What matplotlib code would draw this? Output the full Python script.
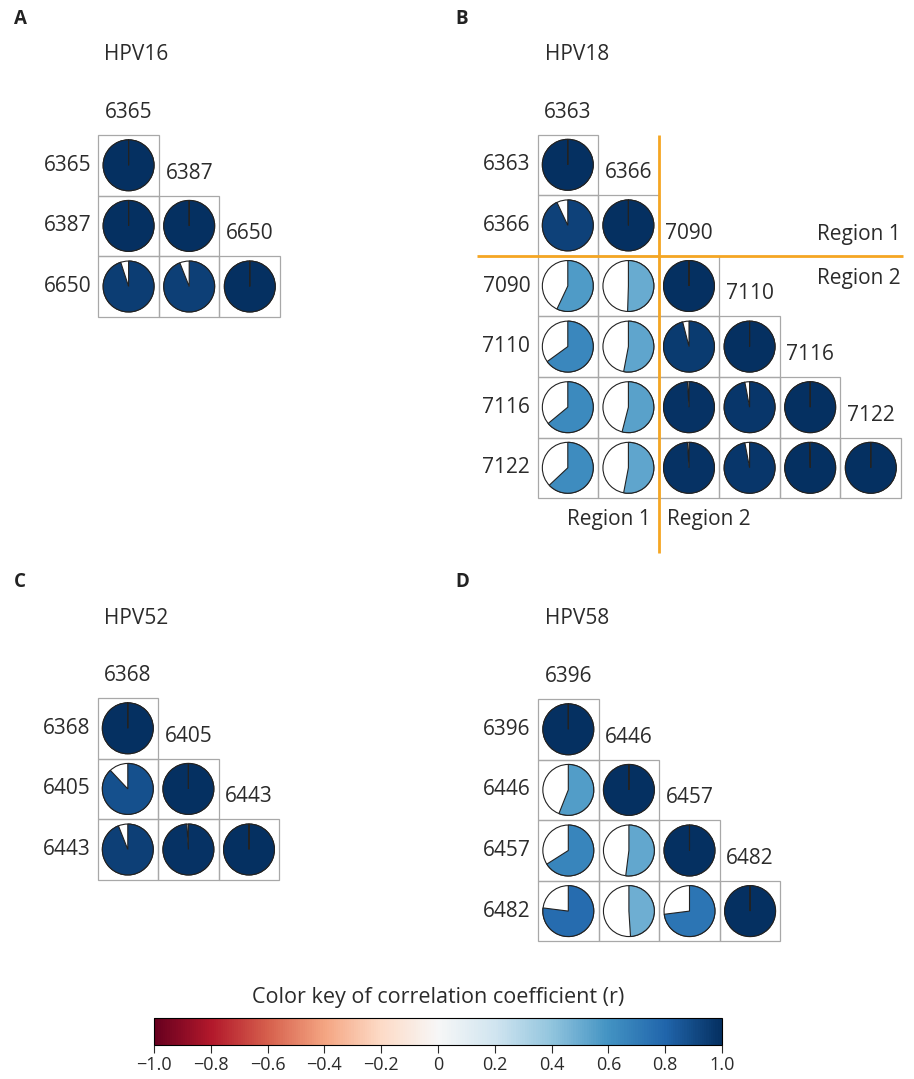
import matplotlib
matplotlib.use("Agg")
import matplotlib.pyplot as plt
from matplotlib.patches import Wedge, Circle, Rectangle
from matplotlib.colors import Normalize
from matplotlib.cm import ScalarMappable

plt.rcParams['font.family'] = ['Open Sans', 'DejaVu Sans']

# --- data (lower triangle of correlation matrices, r values) ---
hpv16_pos = ["6365", "6387", "6650"]
hpv16_r = [[1.0],
           [1.0, 1.0],
           [0.95, 0.94, 1.0]]

hpv18_pos = ["6363", "6366", "7090", "7110", "7116", "7122"]
hpv18_r = [[1.0],
           [0.93, 1.0],
           [0.57, 0.505, 1.0],
           [0.65, 0.53, 0.96, 1.0],
           [0.64, 0.54, 0.99, 0.97, 1.0],
           [0.63, 0.53, 0.99, 0.97, 0.995, 1.0]]

hpv52_pos = ["6368", "6405", "6443"]
hpv52_r = [[1.0],
           [0.88, 1.0],
           [0.94, 0.99, 1.0]]

hpv58_pos = ["6396", "6446", "6457", "6482"]
hpv58_r = [[1.0],
           [0.56, 1.0],
           [0.66, 0.52, 1.0],
           [0.77, 0.49, 0.73, 1.0]]

cbar_ticks = [-1.0, -0.8, -0.6, -0.4, -0.2, 0, 0.2, 0.4, 0.6, 0.8, 1.0]
cbar_labels = ["\u22121.0", "\u22120.8", "\u22120.6", "\u22120.4", "\u22120.2", "0",
               "0.2", "0.4", "0.6", "0.8", "1.0"]

W, H = 914, 1079
CELL = 60.6
cmap = plt.get_cmap("RdBu")
norm = Normalize(-1, 1)
orange = "#f5a623"
txt = "#2b2b2b"
FS = 15

fig = plt.figure(figsize=(W / 100, H / 100), dpi=100)


def px_axes(left, top, w, h):
    return fig.add_axes([left / W, 1 - (top + h) / H, w / W, h / H])


def corr_panel(left, top, pos, r, letter, title, lx, ly):
    n = len(pos)
    ax = px_axes(left, top, n * CELL, n * CELL)
    ax.set_xlim(0, n)
    ax.set_ylim(0, n)
    ax.axis("off")
    for i in range(n):
        y = n - i - 0.5
        for j in range(i + 1):
            x = j + 0.5
            ax.add_patch(Rectangle((j, n - i - 1), 1, 1, fill=False,
                                   ec="#a8a8a8", lw=0.9, clip_on=False))
            v = r[i][j]
            ax.add_patch(Circle((x, y), 0.42, fc="white", ec="#222222",
                                lw=0.8, clip_on=False))
            # keep just under a full turn so the radial edge at 12 o'clock shows
            sweep = min(360 * v, 359.9)
            ax.add_patch(Wedge((x, y), 0.42, 90 - sweep, 90,
                               fc=cmap(norm(v)), ec="#222222", lw=0.8,
                               clip_on=False))
        ax.text(-0.12, y, pos[i], ha="right", va="center", fontsize=FS,
                color=txt)
        ax.text(i + 0.5, n - i + 0.37, pos[i], ha="center", va="center",
                fontsize=FS, color=txt)
    fig.text(lx / W, 1 - ly / H, letter, fontsize=13.5, fontweight="bold",
             ha="left", va="center", color="#222222")
    fig.text((lx + 90) / W, 1 - (ly + 36) / H, title, fontsize=FS,
             ha="left", va="center", color=txt)
    return ax


corr_panel(98.3, 135, hpv16_pos, hpv16_r, "A", "HPV16", 14, 19)
axB = corr_panel(537.5, 134.5, hpv18_pos, hpv18_r, "B", "HPV18", 455, 19)
corr_panel(97.5, 698, hpv52_pos, hpv52_r, "C", "HPV52", 14, 582)
corr_panel(538, 699, hpv58_pos, hpv58_r, "D", "HPV58", 455, 582)

# region separators in panel B (cell units)
axB.plot([2, 2], [6, -0.9], color=orange, lw=2.0, clip_on=False,
         solid_capstyle="butt")
axB.plot([-1.0, 6.03], [4, 4], color=orange, lw=2.0, clip_on=False,
         solid_capstyle="butt")
axB.text(6.0, 4.35, "Region 1", ha="right", va="center", fontsize=FS, color=txt)
axB.text(6.0, 3.63, "Region 2", ha="right", va="center", fontsize=FS, color=txt)
axB.text(1.87, -0.35, "Region 1", ha="right", va="center", fontsize=FS, color=txt)
axB.text(2.13, -0.35, "Region 2", ha="left", va="center", fontsize=FS, color=txt)

# color key
cax = px_axes(154, 1018, 568, 27)
cb = fig.colorbar(ScalarMappable(norm=norm, cmap=cmap), cax=cax,
                  orientation="horizontal")
cb.set_ticks(cbar_ticks)
cb.set_ticklabels(cbar_labels)
cax.tick_params(labelsize=13, length=6, width=0.8, colors=txt, pad=2)
cb.outline.set_linewidth(0.8)
fig.text(438 / W, 1 - 997 / H, "Color key of correlation coefficient (r)",
         ha="center", va="center", fontsize=15.5, color=txt)

fig.savefig("out.png", dpi=100)
